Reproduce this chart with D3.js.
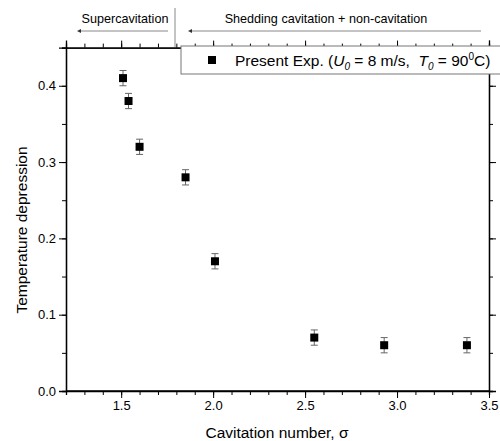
<!DOCTYPE html>
<html>
<head>
<meta charset="utf-8">
<script src="https://cdn.jsdelivr.net/npm/d3@7"></script>
<style>
  body { margin: 0; background: #fff; }
  svg { display: block; font-family: Arial, "Liberation Sans", sans-serif; }
  .axis path, .axis line { stroke: #000; }
  .axis text { font-size: 13px; fill: #000; }
</style>
</head>
<body>
<svg id="chart" width="500" height="441"></svg>
<script>
(function() {
  'use strict';

  // measured data
  var sigma = [1.51, 1.54, 1.60, 1.85, 2.01, 2.55, 2.93, 3.38];
  var depression = [0.41, 0.38, 0.32, 0.28, 0.17, 0.07, 0.06, 0.06];
  var errBar = [0.01, 0.01, 0.01, 0.01, 0.01, 0.01, 0.01, 0.01];

  var xTicks = [1.5, 2.0, 2.5, 3.0, 3.5];
  var yTicks = [0.0, 0.1, 0.2, 0.3, 0.4];

  var svg = d3.select('#chart');

  var x = d3.scaleLinear().domain([1.2, 3.5]).range([66, 489]);
  var y = d3.scaleLinear().domain([0, 0.45]).range([391, 47.6]);

  var xMinor = d3.range(1.2, 3.51, 0.1).map(function(v) { return +v.toFixed(2); });
  var yMinor = d3.range(0, 0.451, 0.05).map(function(v) { return +v.toFixed(2); });

  function drawAxis(axis, tx, ty) {
    var g = svg.append('g')
      .attr('class', 'axis')
      .attr('transform', 'translate(' + tx + ',' + ty + ')')
      .call(axis);
    return g;
  }

  // bottom
  drawAxis(d3.axisBottom(x).tickValues(xMinor).tickSize(4).tickFormat(''), 0, 391);
  drawAxis(d3.axisBottom(x).tickValues(xTicks).tickSize(7).tickPadding(3)
    .tickFormat(d3.format('.1f')), 0, 391)
    .select('.domain').attr('d', 'M66,0H489');
  // top
  drawAxis(d3.axisTop(x).tickValues(xMinor).tickSize(4).tickFormat(''), 0, 47.6);
  drawAxis(d3.axisTop(x).tickValues(xTicks).tickSize(7).tickFormat(''), 0, 47.6);
  // left
  drawAxis(d3.axisLeft(y).tickValues(yMinor).tickSize(4).tickFormat(''), 66, 0);
  drawAxis(d3.axisLeft(y).tickValues(yTicks).tickSize(7).tickPadding(3)
    .tickFormat(d3.format('.1f')), 66, 0);
  // right
  drawAxis(d3.axisRight(y).tickValues(yMinor).tickSize(4).tickFormat(''), 489, 0);
  drawAxis(d3.axisRight(y).tickValues(yTicks).tickSize(7).tickFormat(''), 489, 0);

  svg.selectAll('.axis .domain').attr('stroke-width', 1.3);

  // error bars
  var pts = sigma.map(function(s, i) {
    return { s: s, v: depression[i], e: errBar[i] };
  });

  var eb = svg.append('g').attr('stroke', '#666').attr('stroke-width', 1);
  eb.selectAll('line.v').data(pts).enter().append('line')
    .attr('x1', function(d) { return x(d.s); })
    .attr('x2', function(d) { return x(d.s); })
    .attr('y1', function(d) { return y(d.v - d.e); })
    .attr('y2', function(d) { return y(d.v + d.e); });
  [-1, 1].forEach(function(k) {
    eb.selectAll(null).data(pts).enter().append('line')
      .attr('x1', function(d) { return x(d.s) - 3.5; })
      .attr('x2', function(d) { return x(d.s) + 3.5; })
      .attr('y1', function(d) { return y(d.v + k * d.e); })
      .attr('y2', function(d) { return y(d.v + k * d.e); });
  });

  // markers
  svg.append('g').selectAll('rect').data(pts).enter().append('rect')
    .attr('x', function(d) { return x(d.s) - 4; })
    .attr('y', function(d) { return y(d.v) - 4; })
    .attr('width', 8)
    .attr('height', 8)
    .attr('fill', '#000');

  // legend
  var lg = svg.append('g');
  lg.append('rect')
    .attr('x', 181).attr('y', 46)
    .attr('width', 330).attr('height', 28)
    .attr('fill', '#fff').attr('stroke', '#777').attr('stroke-width', 1);
  lg.append('rect')
    .attr('x', 208).attr('y', 56)
    .attr('width', 8).attr('height', 8)
    .attr('fill', '#000');
  var lt = lg.append('text')
    .attr('x', 235).attr('y', 65.5)
    .attr('font-size', 15.5)
    .attr('fill', '#000');
  lt.append('tspan').text('Present Exp. (');
  lt.append('tspan').attr('font-style', 'italic').text('U');
  lt.append('tspan').attr('font-style', 'italic').attr('font-size', 10).attr('dy', 4).text('0');
  lt.append('tspan').attr('dy', -4).attr('xml:space', 'preserve').text(' = 8 m/s,  ');
  lt.append('tspan').attr('font-style', 'italic').text('T');
  lt.append('tspan').attr('font-style', 'italic').attr('font-size', 10).attr('dy', 4).text('0');
  lt.append('tspan').attr('dy', -4).text(' = 90');
  lt.append('tspan').attr('font-size', 10).attr('dy', -6).text('0');
  lt.append('tspan').attr('dy', 6).text('C)');
  lt.style('white-space', 'pre');

  // regime annotations
  var defs = svg.append('defs');
  defs.append('marker')
    .attr('id', 'arrowhead')
    .attr('viewBox', '0 -5 10 10')
    .attr('refX', 0).attr('refY', 0)
    .attr('markerWidth', 9).attr('markerHeight', 4)
    .attr('markerUnits', 'userSpaceOnUse')
    .attr('orient', 'auto-start-reverse')
    .append('path')
    .attr('d', 'M0,-5L10,0L0,5z')
    .attr('fill', '#333');

  var ann = svg.append('g');
  ann.append('line')
    .attr('x1', 175).attr('x2', 175)
    .attr('y1', 8).attr('y2', 47)
    .attr('stroke', '#888').attr('stroke-width', 1);

  var regimes = [
    { label: 'Supercavitation', cx: 125, from: 168, to: 72 },
    { label: 'Shedding cavitation + non-cavitation', cx: 326, from: 481, to: 183 }
  ];
  ann.selectAll('text').data(regimes).enter().append('text')
    .attr('x', function(d) { return d.cx; })
    .attr('y', 22.5)
    .attr('text-anchor', 'middle')
    .attr('font-size', 12.6)
    .text(function(d) { return d.label; });
  ann.selectAll('line.arr').data(regimes).enter().append('line')
    .attr('class', 'arr')
    .attr('x1', function(d) { return d.from; })
    .attr('x2', function(d) { return d.to + 9; })
    .attr('y1', 31).attr('y2', 31)
    .attr('stroke', '#888').attr('stroke-width', 1)
    .attr('marker-end', 'url(#arrowhead)');

  // axis titles
  svg.append('text')
    .attr('x', 277).attr('y', 438)
    .attr('text-anchor', 'middle')
    .attr('font-size', 15.5)
    .text('Cavitation number, σ');
  svg.append('text')
    .attr('transform', 'translate(27,230) rotate(-90)')
    .attr('text-anchor', 'middle')
    .attr('font-size', 15.5)
    .text('Temperature depression');
})();
</script>
</body>
</html>
